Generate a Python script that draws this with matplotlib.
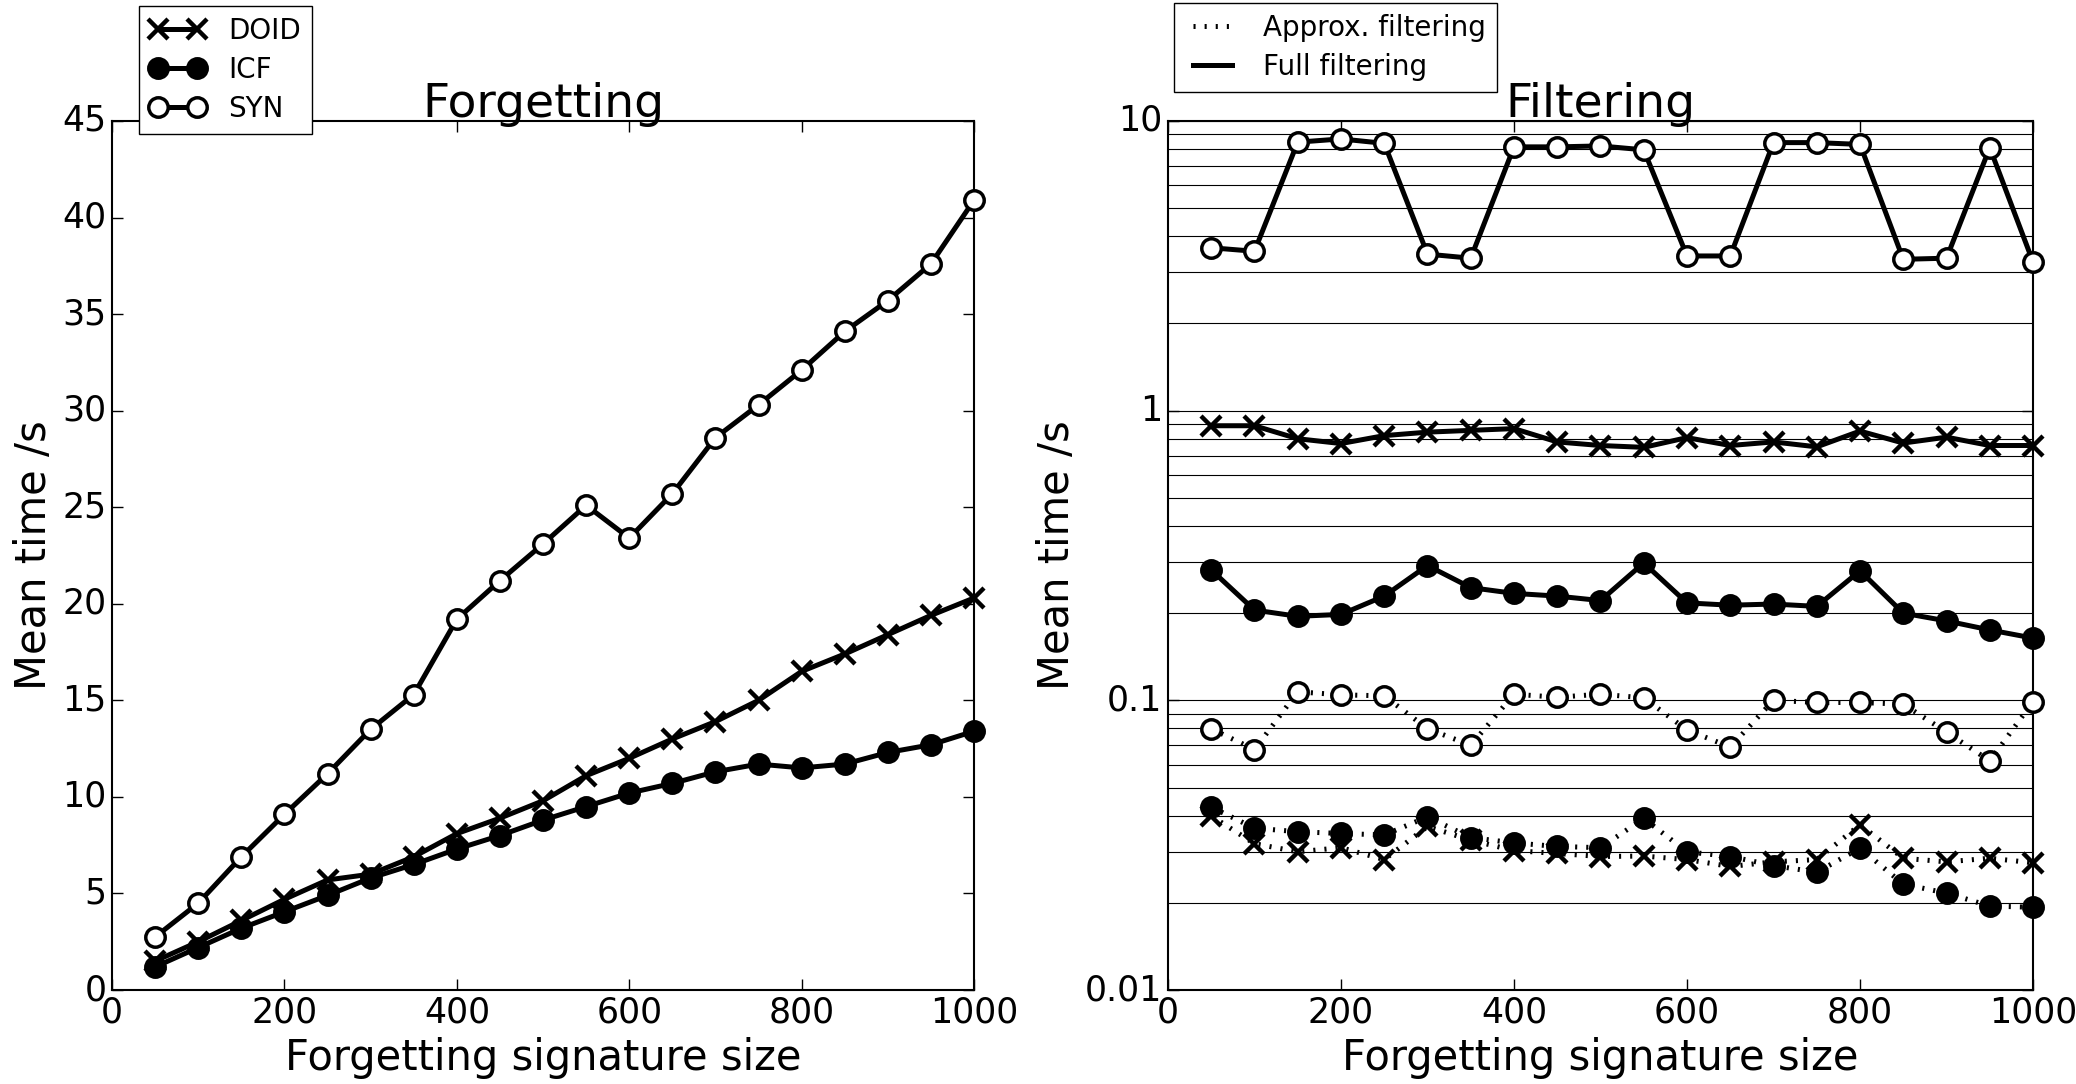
import numpy as np
import matplotlib
matplotlib.use('Agg')
import matplotlib.pyplot as plt
from matplotlib.lines import Line2D
from matplotlib.ticker import FixedLocator, FixedFormatter, NullFormatter

plt.style.use('classic')
plt.rcParams['font.family'] = ['DejaVu Sans']
plt.rcParams['lines.scale_dashes'] = False

sizes = [50, 100, 150, 200, 250, 300, 350, 400, 450, 500,
         550, 600, 650, 700, 750, 800, 850, 900, 950, 1000]

# Forgetting, mean time in seconds
forget_doid = [1.5, 2.5, 3.6, 4.7, 5.7, 6.0, 6.9, 8.1, 8.9, 9.8,
               11.1, 12.0, 13.0, 13.9, 15.0, 16.5, 17.4, 18.4, 19.4, 20.3]
forget_icf = [1.2, 2.2, 3.2, 4.05, 4.9, 5.8, 6.5, 7.3, 8.0, 8.8,
              9.5, 10.2, 10.7, 11.3, 11.7, 11.5, 11.7, 12.3, 12.7, 13.4]
forget_syn = [2.75, 4.5, 6.9, 9.1, 11.2, 13.5, 15.3, 19.2, 21.2, 23.1,
              25.1, 23.4, 25.7, 28.6, 30.3, 32.1, 34.1, 35.7, 37.6, 40.9]

# Filtering, mean time in seconds
full_syn = [3.65, 3.55, 8.45, 8.67, 8.37, 3.47, 3.36, 8.14, 8.14, 8.2,
            7.95, 3.42, 3.42, 8.42, 8.42, 8.3, 3.33, 3.36, 8.09, 3.26]
full_doid = [0.887, 0.887, 0.80, 0.77, 0.82, 0.843, 0.855, 0.867, 0.78, 0.758,
             0.747, 0.807, 0.758, 0.78, 0.75, 0.85, 0.773, 0.81, 0.758, 0.758]
full_icf = [0.282, 0.205, 0.195, 0.198, 0.229, 0.292, 0.245, 0.234, 0.229, 0.221,
            0.298, 0.217, 0.213, 0.215, 0.211, 0.28, 0.2, 0.188, 0.175, 0.164]
approx_syn = [0.0798, 0.0676, 0.107, 0.1045, 0.1036, 0.0798, 0.07, 0.105, 0.1025, 0.105,
              0.102, 0.079, 0.069, 0.1, 0.0983, 0.0983, 0.097, 0.0777, 0.0618, 0.099]
approx_icf = [0.0428, 0.0362, 0.0352, 0.0347, 0.0343, 0.0396, 0.0336, 0.0322, 0.0313, 0.031,
              0.0391, 0.030, 0.0289, 0.0269, 0.0255, 0.0309, 0.0232, 0.0216, 0.0195, 0.0193]
approx_doid = [0.0399, 0.032, 0.030, 0.031, 0.0282, 0.0367, 0.0329, 0.0303, 0.0296, 0.0289,
               0.029, 0.0282, 0.0267, 0.0277, 0.0282, 0.0372, 0.0285, 0.0277, 0.0285, 0.0275]

log_ticks = [0.01, 0.1, 1, 10]
log_labels = ['0.01', '0.1', '1', '10']

lw = 3.6
ms = 14
mew = 2.5
dotted = (0, (1.5, 6.5))
styles = {
    'DOID': dict(marker='x', ms=ms, mew=mew + 0.7, mfc='black', mec='black'),
    'ICF': dict(marker='o', ms=ms, mew=mew, mfc='black', mec='black'),
    'SYN': dict(marker='o', ms=ms, mew=mew, mfc='white', mec='black'),
}

fig = plt.figure(figsize=(20.76, 10.84), dpi=100, facecolor='white')
ax0 = fig.add_axes([0.0540, 0.0867, 0.4152, 0.8017])
ax1 = fig.add_axes([0.5626, 0.0867, 0.4167, 0.8017])

# Forgetting
for name, vals in [('DOID', forget_doid), ('ICF', forget_icf), ('SYN', forget_syn)]:
    ax0.plot(sizes, vals, '-', color='black', lw=lw, zorder=3, clip_on=False,
             **styles[name])
ax0.set_xlim(0, 1000)
ax0.set_ylim(0, 45)
ax0.set_xticks(range(0, 1001, 200))
ax0.set_yticks(range(0, 46, 5))
ax0.set_title('Forgetting', fontsize=34, pad=3)
ax0.set_xlabel('Forgetting signature size', fontsize=30)
ax0.set_ylabel('Mean time /s', fontsize=30)

handles0 = [Line2D([0], [0], color='black', lw=lw, **styles[n]) for n in ['DOID', 'ICF', 'SYN']]
fig.legend(handles0, ['DOID', 'ICF', 'SYN'], loc='lower left',
           bbox_to_anchor=(139 / 2076, 1 - 134 / 1084), bbox_transform=fig.transFigure,
           fontsize=20, numpoints=2, frameon=True, fancybox=False,
           handlelength=2.0, borderaxespad=0, labelspacing=0.4)

# Filtering
for name, vals in [('SYN', full_syn), ('DOID', full_doid), ('ICF', full_icf)]:
    ax1.plot(sizes, vals, '-', color='black', lw=lw, zorder=3, clip_on=False,
             **styles[name])
for name, vals in [('SYN', approx_syn), ('ICF', approx_icf), ('DOID', approx_doid)]:
    ax1.plot(sizes, vals, ls=dotted, color='black', lw=lw, zorder=3, clip_on=False,
             **styles[name])
ax1.set_yscale('log')
ax1.set_xlim(0, 1000)
ax1.set_ylim(0.01, 10)
ax1.set_xticks(range(0, 1001, 200))
ax1.yaxis.set_major_locator(FixedLocator(log_ticks))
ax1.yaxis.set_major_formatter(FixedFormatter(log_labels))
ax1.yaxis.set_minor_formatter(NullFormatter())
ax1.grid(True, which='both', axis='y', linestyle='-', color='black', lw=0.8)
ax1.grid(False, axis='x')
ax1.set_axisbelow(True)
ax1.set_title('Filtering', fontsize=34, pad=3)
ax1.set_xlabel('Forgetting signature size', fontsize=30)
ax1.set_ylabel('Mean time /s', fontsize=30)

handles1 = [Line2D([0], [0], color='black', lw=lw, ls=dotted),
            Line2D([0], [0], color='black', lw=lw, ls='-')]
fig.legend(handles1, ['Approx. filtering', 'Full filtering'], loc='lower left',
           bbox_to_anchor=(1174 / 2076, 1 - 92 / 1084), bbox_transform=fig.transFigure,
           fontsize=20, frameon=True, fancybox=False,
           handlelength=2.0, borderaxespad=0, labelspacing=0.4)

for ax in (ax0, ax1):
    ax.tick_params(labelsize=25, direction='in', length=8, width=1)
    ax.tick_params(which='minor', length=4)
    for sp in ax.spines.values():
        sp.set_linewidth(1.5)

fig.savefig('out.png', dpi=100, facecolor='white')
